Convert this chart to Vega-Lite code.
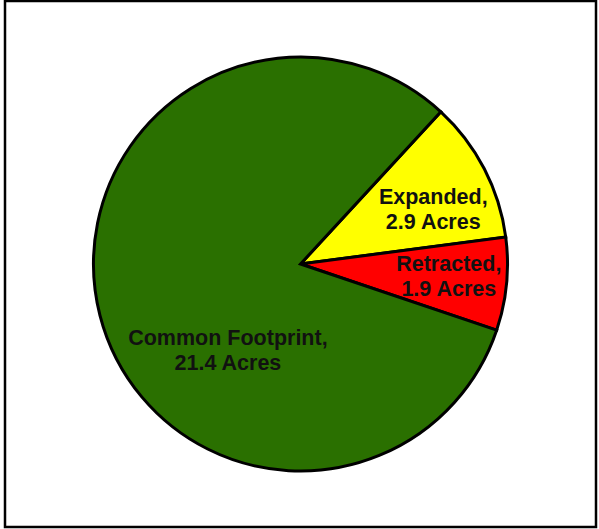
{
  "$schema": "https://vega.github.io/schema/vega-lite/v6.json",
  "width": 599,
  "height": 529,
  "autosize": {"type": "fit", "contains": "padding"},
  "padding": {"left": 5, "top": 1, "right": 3, "bottom": 2},
  "background": "white",
  "view": {"stroke": "black", "strokeWidth": 2.5},
  "config": {
    "text": {"font": "Liberation Sans", "fontWeight": "bold", "fontSize": 21.5, "lineHeight": 24.5, "color": "#111111"}
  },
  "data": {
    "values": [
      {"category": "Expanded", "acres": 2.9, "rank": 1},
      {"category": "Retracted", "acres": 1.9, "rank": 2},
      {"category": "Common Footprint", "acres": 21.4, "rank": 3}
    ]
  },
  "encoding": {
    "theta": {"field": "acres", "type": "quantitative", "stack": true, "scale": {"range": [0.745, 7.0282]}},
    "order": {"field": "rank", "type": "quantitative"}
  },
  "layer": [
    {
      "mark": {"type": "arc", "outerRadius": 207, "stroke": "black", "strokeWidth": 3, "strokeJoin": "miter"},
      "encoding": {
        "color": {
          "field": "category",
          "type": "nominal",
          "legend": null,
          "scale": {"domain": ["Expanded", "Retracted", "Common Footprint"], "range": ["#FFFF00", "#FF0000", "#2A7000"]}
        }
      }
    },
    {
      "mark": {"type": "text", "radius": 145, "dx": 4, "dy": 1, "align": "center", "baseline": "middle"},
      "encoding": {
        "text": {"condition": {"test": "datum.category === 'Expanded'", "value": ["Expanded,", "2.9 Acres"]}, "value": ""}
      }
    },
    {
      "mark": {"type": "text", "radius": 148, "dx": 1, "dy": -13, "align": "center", "baseline": "middle"},
      "encoding": {
        "text": {"condition": {"test": "datum.category === 'Retracted'", "value": ["Retracted,", "1.9 Acres"]}, "value": ""}
      }
    },
    {
      "mark": {"type": "text", "radius": 110, "dx": 34, "dy": 48, "align": "center", "baseline": "middle"},
      "encoding": {
        "text": {"condition": {"test": "datum.category === 'Common Footprint'", "value": ["Common Footprint,", "21.4 Acres"]}, "value": ""}
      }
    }
  ]
}
